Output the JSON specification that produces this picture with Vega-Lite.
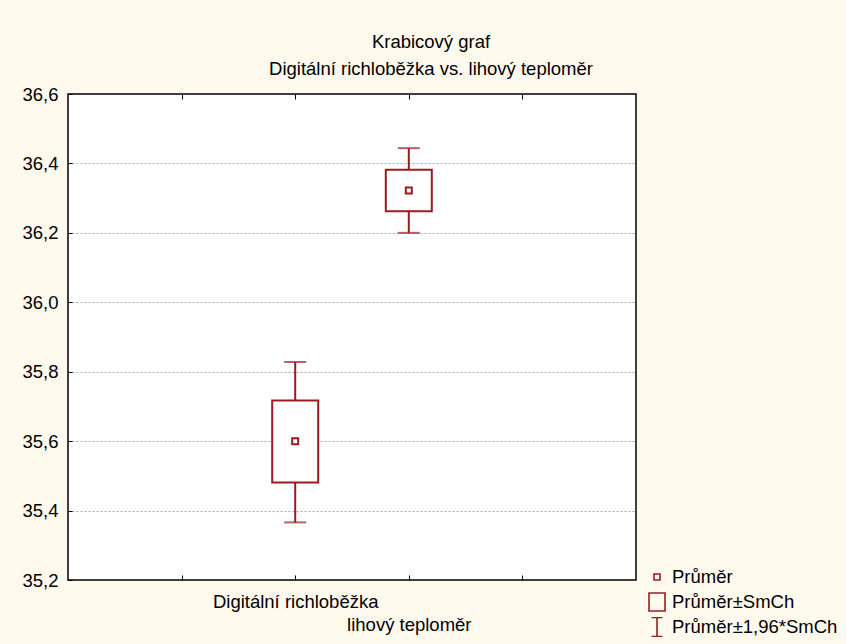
{
  "$schema": "https://vega.github.io/schema/vega-lite/v6.json",
  "autosize": "none",
  "width": 568,
  "height": 486,
  "padding": {"left": 68, "top": 94, "right": 210, "bottom": 64},
  "background": "#fff9ee",
  "config": {
    "font": "Liberation Sans",
    "view": {"fill": "#ffffff", "stroke": "#000000", "strokeWidth": 1.5},
    "axis": {"labelFont": "Liberation Sans", "labelFontSize": 18.5, "labelColor": "#000000", "domain": false, "tickColor": "#000000", "title": null}
  },
  "title": {
    "text": ["Krabicový graf", "Digitální richloběžka vs. lihový teploměr"],
    "fontSize": 18.5,
    "fontWeight": "normal",
    "font": "Liberation Sans",
    "color": "#000000",
    "lineHeight": 27,
    "anchor": "middle",
    "dx": 79,
    "offset": 7
  },
  "data": {
    "values": [
      {"k": "Digitální richloběžka", "mean": 35.600, "se_lo": 35.481, "se_hi": 35.717, "ci_lo": 35.366, "ci_hi": 35.828},
      {"k": "lihový teploměr", "mean": 36.322, "se_lo": 36.262, "se_hi": 36.382, "ci_lo": 36.200, "ci_hi": 36.444}
    ]
  },
  "resolve": {"axis": {"x": "independent"}},
  "layer": [
    {
      "mark": {"type": "rule", "color": "#9a1c20", "strokeWidth": 2},
      "encoding": {
        "x": {
          "field": "k", "type": "nominal",
          "scale": {"type": "point", "domain": ["", "Digitální richloběžka", "lihový teploměr", " "], "padding": 1},
          "axis": {
            "orient": "bottom", "labelAngle": 0, "tickSize": -5, "tickWidth": 1,
            "labelPadding": {"condition": {"test": "datum.value == 'lihový teploměr'", "value": 40}, "value": 17}
          }
        },
        "y": {
          "field": "ci_lo", "type": "quantitative",
          "scale": {"domain": [35.2, 36.6], "nice": false, "zero": false},
          "axis": {
            "values": [35.2, 35.4, 35.6, 35.8, 36.0, 36.2, 36.4, 36.6],
            "labelExpr": "replace(format(datum.value, '.1f'), '.', ',')",
            "grid": true, "gridDash": [2, 2], "gridColor": "#a8a8a8",
            "gridOpacity": {"condition": {"test": "datum.value < 35.25 || datum.value > 36.55", "value": 0}, "value": 1},
            "tickSize": -4, "labelPadding": 14
          }
        },
        "y2": {"field": "ci_hi"}
      }
    },
    {
      "mark": {"type": "tick", "color": "#9a1c20", "thickness": 2, "size": 22, "orient": "horizontal"},
      "encoding": {
        "x": {"field": "k", "type": "nominal", "axis": {"orient": "top", "labels": false, "tickSize": -5, "title": null}},
        "y": {"field": "ci_lo", "type": "quantitative"}
      }
    },
    {
      "mark": {"type": "tick", "color": "#9a1c20", "thickness": 2, "size": 22, "orient": "horizontal"},
      "encoding": {
        "x": {"field": "k", "type": "nominal", "axis": null},
        "y": {"field": "ci_hi", "type": "quantitative"}
      }
    },
    {
      "mark": {"type": "bar", "orient": "vertical", "size": 46, "fill": "#ffffff", "stroke": "#9a1c20", "strokeWidth": 2},
      "encoding": {
        "x": {"field": "k", "type": "nominal", "axis": null},
        "y": {"field": "se_lo", "type": "quantitative"},
        "y2": {"field": "se_hi"}
      }
    },
    {
      "mark": {"type": "point", "filled": false, "color": "#9a1c20", "strokeWidth": 2, "size": 400, "opacity": 1},
      "encoding": {
        "x": {"field": "k", "type": "nominal", "axis": null},
        "y": {"field": "mean", "type": "quantitative"},
        "shape": {
          "datum": "Průměr",
          "scale": {
            "domain": ["Průměr", "Průměr±SmCh", "Průměr±1,96*SmCh"],
            "range": ["M-0.3,-0.3H0.3V0.3H-0.3Z", "M-0.8,-0.9H0.8V0.9H-0.8Z", "M-0.55,-0.95H0.55M0,-0.95V0.95M-0.55,0.95H0.55"]
          },
          "legend": {
            "orient": "none", "legendX": 578, "legendY": 473, "title": null,
            "symbolSize": 400, "symbolStrokeWidth": 1.6, "symbolStrokeColor": "#9a1c20", "symbolFillColor": "transparent",
            "labelFont": "Liberation Sans", "labelFontSize": 18.5, "labelColor": "#000000", "labelLimit": 300,
            "labelOffset": 4, "rowPadding": 5, "padding": 0, "clipHeight": 20
          }
        }
      }
    }
  ]
}
